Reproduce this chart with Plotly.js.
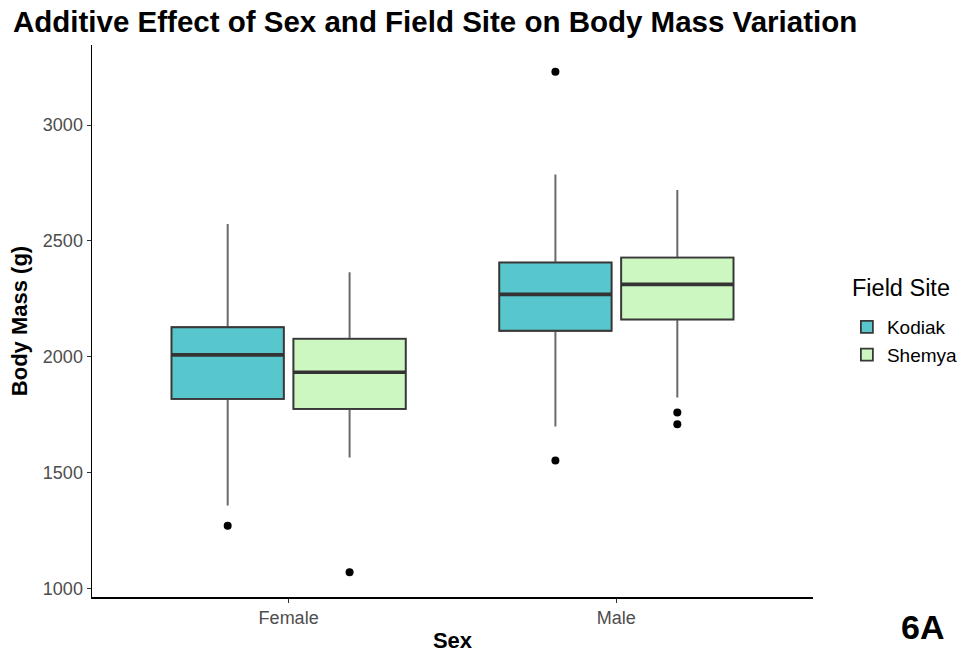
<!DOCTYPE html>
<html>
<head>
<meta charset="utf-8">
<script src="https://cdn.plot.ly/plotly-3.0.1.min.js"></script>
<style>html,body{margin:0;padding:0;background:#fff;}</style>
</head>
<body>
<div id="chart" style="width:964px;height:653px;"></div>
<script>
const sexes = ["Female", "Male"];

const kodiakQ1 = [1819, 2113];
const kodiakMedian = [2009, 2270];
const kodiakQ3 = [2128, 2407];
const kodiakLower = [1359, 1700];
const kodiakUpper = [2573, 2787];
const kodiakOutliers = [[1272], [3230, 1553]];

const shemyaQ1 = [1776, 2162];
const shemyaMedian = [1934, 2313];
const shemyaQ3 = [2078, 2428];
const shemyaLower = [1566, 1825];
const shemyaUpper = [2365, 2720];
const shemyaOutliers = [[1072], [1761, 1710]];

const font = "Liberation Sans, Arial, Helvetica, sans-serif";

function siteTraces(name, fill, q1, med, q3, lo, hi, out) {
  const common = {
    type: "box",
    x: sexes,
    offsetgroup: name,
    alignmentgroup: "sites",
    legendgroup: name,
    whiskerwidth: 0,
    hoverinfo: "skip"
  };
  // whiskers + outliers
  const whiskers = Object.assign({}, common, {
    name: name,
    q1: q1, median: med, q3: q3,
    lowerfence: lo, upperfence: hi,
    y: out,
    boxpoints: "outliers",
    jitter: 0, pointpos: 0,
    fillcolor: fill,
    line: {color: "#6a6a6a", width: 2},
    marker: {color: "#000", size: 8, line: {width: 0}},
    showlegend: false
  });
  // box body with darker outline
  const body = Object.assign({}, common, {
    name: name,
    q1: q1, median: med, q3: q3,
    lowerfence: q1, upperfence: q3,
    boxpoints: false,
    showwhiskers: false,
    fillcolor: fill,
    line: {color: "#383838", width: 1.8},
    showlegend: true
  });
  // thick median bar
  const medianBar = Object.assign({}, common, {
    name: name,
    q1: med, median: med, q3: med,
    lowerfence: med, upperfence: med,
    boxpoints: false,
    showwhiskers: false,
    fillcolor: "rgba(0,0,0,0)",
    line: {color: "#333333", width: 3.6},
    showlegend: false
  });
  return [whiskers, body, medianBar];
}

const data = [].concat(
  siteTraces("Kodiak", "#58C6CD", kodiakQ1, kodiakMedian, kodiakQ3, kodiakLower, kodiakUpper, kodiakOutliers),
  siteTraces("Shemya", "#CCF7C0", shemyaQ1, shemyaMedian, shemyaQ3, shemyaLower, shemyaUpper, shemyaOutliers)
);

const layout = {
  width: 964, height: 653,
  margin: {l: 92, r: 151, t: 45, b: 56, autoexpand: false},
  paper_bgcolor: "#fff", plot_bgcolor: "#fff",
  font: {family: font, color: "#000"},
  boxmode: "group",
  boxgap: 0.256,
  boxgroupgap: 0.08,
  title: {
    text: "<b>Additive Effect of Sex and Field Site on Body Mass Variation</b>",
    font: {family: font, size: 29.5, color: "#000"},
    x: 13 / 964, xanchor: "left", xref: "container",
    y: 0.967, yanchor: "middle", yref: "container"
  },
  xaxis: {
    type: "category",
    range: [-0.6, 1.6],
    showline: true, linecolor: "#000", linewidth: 1.5,
    ticks: "outside", ticklen: 4, tickcolor: "#333", tickwidth: 1,
    showgrid: false, zeroline: false,
    tickfont: {family: font, size: 18, color: "#4D4D4D"},
    title: {text: "<b>Sex</b>", font: {family: font, size: 22, color: "#000"}, standoff: 5}
  },
  yaxis: {
    range: [965, 3345],
    tickvals: [1000, 1500, 2000, 2500, 3000],
    showline: true, linecolor: "#000", linewidth: 1.5,
    ticks: "outside", ticklen: 4, tickcolor: "#333", tickwidth: 1,
    showgrid: false, zeroline: false,
    tickfont: {family: font, size: 18, color: "#4D4D4D"},
    title: {text: "<b>Body Mass (g)</b>", font: {family: font, size: 22, color: "#000"}, standoff: 9}
  },
  legend: {
    font: {family: font, size: 19, color: "#000"},
    x: 1.047, xanchor: "left", y: 0.4638, yanchor: "middle",
    traceorder: "normal",
    tracegroupgap: 3
  },
  annotations: [
    {
      text: "Field Site",
      xref: "paper", yref: "paper",
      x: (850 - 92) / 721, y: 1 - (288 - 45) / 552,
      xanchor: "left", yanchor: "middle",
      showarrow: false,
      font: {family: font, size: 23.5, color: "#000"}
    },
    {
      text: "<b>6A</b>",
      xref: "paper", yref: "paper",
      x: 1.152, y: -0.054, xanchor: "center", yanchor: "middle",
      showarrow: false,
      font: {family: font, size: 34, color: "#000"}
    }
  ]
};

Plotly.newPlot("chart", data, layout, {displayModeBar: false, staticPlot: true});
</script>
</body>
</html>
